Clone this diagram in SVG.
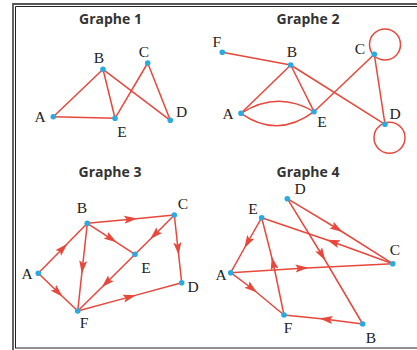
<svg xmlns="http://www.w3.org/2000/svg" width="417" height="350" viewBox="0 0 417 350">
<style>
.e{stroke:#e8473b;stroke-width:1.5;fill:none}
.a{stroke:#e8473b;stroke-width:1.5;fill:none;marker-mid:url(#arr)}
.n{fill:#29abe2}
.l{font-family:"Liberation Serif","Times New Roman",serif;font-size:15.5px;fill:#222;text-anchor:middle}
.t{font-family:"Open Sans","Liberation Sans",sans-serif;font-weight:700;font-size:14px;fill:#333;text-anchor:middle}
</style>
<defs>
<marker id="arr" viewBox="0 0 13 9" markerWidth="13" markerHeight="9" refX="6.5" refY="4.5" orient="auto" markerUnits="userSpaceOnUse">
<path d="M0,0.5 L13,4.5 L0,8.5 L2.5,4.5 Z" fill="#e8473b"/>
</marker>
</defs>
<rect width="417" height="350" fill="#fff"/>
<g id="frame" fill="none">
<path d="M13,350 V4 H417" stroke="#555" stroke-width="1.8"/>
<path d="M15.5,348 V6.5 H417" stroke="#222" stroke-width="1"/>
<path d="M15,348 H417" stroke="#222" stroke-width="1.2"/>
</g>
<g id="titles">
<text class="t" x="110.5" y="24">Graphe 1</text>
<text class="t" x="308" y="24">Graphe 2</text>
<text class="t" x="110" y="177">Graphe 3</text>
<text class="t" x="308" y="177">Graphe 4</text>
</g>
<g id="connectors">
<line class="e" x1="53.3" y1="116.7" x2="103" y2="69.3"/>
<line class="e" x1="53.3" y1="116.7" x2="115" y2="118.3"/>
<line class="e" x1="103" y1="69.3" x2="115" y2="118.3"/>
<line class="e" x1="103" y1="69.3" x2="170.3" y2="120.3"/>
<line class="e" x1="115" y1="118.3" x2="147.7" y2="63"/>
<line class="e" x1="147.7" y1="63" x2="170.3" y2="120.3"/>
<line class="e" x1="222.3" y1="52.3" x2="290.7" y2="65"/>
<line class="e" x1="290.7" y1="65" x2="241" y2="113.3"/>
<line class="e" x1="290.7" y1="65" x2="314" y2="111.7"/>
<line class="e" x1="290.7" y1="65" x2="385" y2="124.3"/>
<line class="e" x1="314" y1="111.7" x2="374.3" y2="54.3"/>
<line class="e" x1="374.3" y1="54.3" x2="385" y2="124.3"/>
<path class="e" d="M241,113.3 Q277.5,90 314,111.7"/>
<path class="e" d="M241,113.3 Q277.5,139 314,111.7"/>
<circle class="e" cx="385" cy="44.5" r="15.5"/>
<circle class="e" cx="389.5" cy="137.8" r="15.5"/>
<path class="a" d="M38.3,273.3 L62.8,248.3 L87.3,223.3"/>
<path class="a" d="M38.3,273.3 L58,292.2 L77.7,311"/>
<path class="a" d="M87.3,223.3 L130.8,219.2 L174.3,215"/>
<path class="a" d="M87.3,223.3 L111.2,238.8 L135,254.3"/>
<path class="a" d="M87.3,223.3 L82.5,267.2 L77.7,311"/>
<path class="a" d="M174.3,215 L154.7,234.7 L135,254.3"/>
<path class="a" d="M174.3,215 L178,248.9 L181.7,282.7"/>
<path class="a" d="M135,254.3 L106.4,282.7 L77.7,311"/>
<path class="a" d="M77.7,311 L129.7,296.9 L181.7,282.7"/>
<path class="a" d="M287.3,198.7 L337,228.5 L392.7,263.7"/>
<path class="a" d="M287.3,198.7 L322,255 L362.7,324"/>
<path class="a" d="M392.7,263.7 L333,242 L261.7,217.7"/>
<path class="a" d="M261.7,217.7 L247.5,242.5 L230.7,272.7"/>
<path class="a" d="M230.7,272.7 L302,268.2 L392.7,263.7"/>
<path class="a" d="M230.7,272.7 L252,288.5 L284,315"/>
<path class="a" d="M284,315 L273.2,263 L261.7,217.7"/>
<path class="a" d="M362.7,324 L326,319.2 L284,315"/>
</g>
<g id="g1-A"><circle class="n" cx="53.3" cy="116.7" r="2.8"/><text class="l" x="40" y="122">A</text></g>
<g id="g1-B"><circle class="n" cx="103" cy="69.3" r="2.8"/><text class="l" x="99" y="63">B</text></g>
<g id="g1-C"><circle class="n" cx="147.7" cy="63" r="2.8"/><text class="l" x="144" y="57">C</text></g>
<g id="g1-D"><circle class="n" cx="170.3" cy="120.3" r="2.8"/><text class="l" x="181.5" y="117">D</text></g>
<g id="g1-E"><circle class="n" cx="115" cy="118.3" r="2.8"/><text class="l" x="122" y="137">E</text></g>
<g id="g2-A"><circle class="n" cx="241" cy="113.3" r="2.8"/><text class="l" x="228" y="118.5">A</text></g>
<g id="g2-B"><circle class="n" cx="290.7" cy="65" r="2.8"/><text class="l" x="292" y="57">B</text></g>
<g id="g2-C"><circle class="n" cx="374.3" cy="54.3" r="2.8"/><text class="l" x="360" y="54">C</text></g>
<g id="g2-D"><circle class="n" cx="385" cy="124.3" r="2.8"/><text class="l" x="395" y="119">D</text></g>
<g id="g2-E"><circle class="n" cx="314" cy="111.7" r="2.8"/><text class="l" x="322" y="127">E</text></g>
<g id="g2-F"><circle class="n" cx="222.3" cy="52.3" r="2.8"/><text class="l" x="216.7" y="47">F</text></g>
<g id="g3-A"><circle class="n" cx="38.3" cy="273.3" r="2.8"/><text class="l" x="27" y="278.5">A</text></g>
<g id="g3-B"><circle class="n" cx="87.3" cy="223.3" r="2.8"/><text class="l" x="82" y="213">B</text></g>
<g id="g3-C"><circle class="n" cx="174.3" cy="215" r="2.8"/><text class="l" x="183" y="209">C</text></g>
<g id="g3-D"><circle class="n" cx="181.7" cy="282.7" r="2.8"/><text class="l" x="193" y="292">D</text></g>
<g id="g3-E"><circle class="n" cx="135" cy="254.3" r="2.8"/><text class="l" x="146" y="273">E</text></g>
<g id="g3-F"><circle class="n" cx="77.7" cy="311" r="2.8"/><text class="l" x="84" y="328">F</text></g>
<g id="g4-A"><circle class="n" cx="230.7" cy="272.7" r="2.8"/><text class="l" x="221" y="280">A</text></g>
<g id="g4-B"><circle class="n" cx="362.7" cy="324" r="2.8"/><text class="l" x="371" y="343">B</text></g>
<g id="g4-C"><circle class="n" cx="392.7" cy="263.7" r="2.8"/><text class="l" x="395" y="255">C</text></g>
<g id="g4-D"><circle class="n" cx="287.3" cy="198.7" r="2.8"/><text class="l" x="300" y="194">D</text></g>
<g id="g4-E"><circle class="n" cx="261.7" cy="217.7" r="2.8"/><text class="l" x="253" y="214">E</text></g>
<g id="g4-F"><circle class="n" cx="284" cy="315" r="2.8"/><text class="l" x="288" y="333">F</text></g>
</svg>
